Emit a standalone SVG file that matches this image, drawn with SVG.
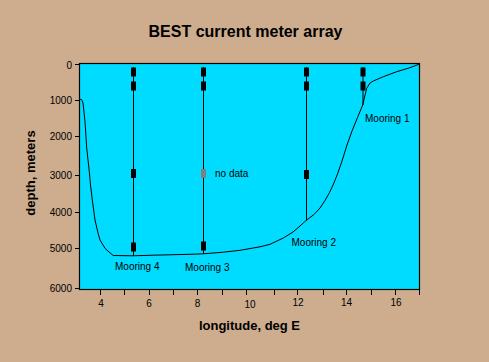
<svg xmlns="http://www.w3.org/2000/svg" width="489" height="362" viewBox="0 0 489 362">
<style>
text{font-family:"Liberation Sans",Arial,sans-serif;fill:#000}
.t{font-size:10px}
.b{font-weight:bold;font-size:13px}
.inst{fill:#000}
.nd{fill:#808080}
.line{stroke:#000;stroke-width:1;fill:none}
</style>
<rect x="0" y="0" width="489" height="362" fill="#CDAD8E"/>
<text x="245.5" y="36.5" text-anchor="middle" style="font-weight:bold;font-size:16px">BEST current meter array</text>
<g id="plot">
<rect x="79.5" y="63.5" width="340" height="226" fill="#00DCFF" stroke="#000" stroke-width="1.2"/>
</g>
<g id="yaxis">
<path class="line" d="M75 64.5H79.5M75 100.5H79.5M75 136.5H79.5M75 175.5H79.5M75 212.5H79.5M75 248.5H79.5M75 288.5H79.5"/>
<g text-anchor="end">
<text x="72" y="68.5" class="t">0</text>
<text x="72" y="104" class="t">1000</text>
<text x="72" y="140" class="t">2000</text>
<text x="72" y="179" class="t">3000</text>
<text x="72" y="216" class="t">4000</text>
<text x="72" y="252" class="t">5000</text>
<text x="72" y="292" class="t">6000</text>
</g>
<text class="b" transform="translate(35,173) rotate(-90)" text-anchor="middle">depth, meters</text>
</g>
<g id="xaxis">
<path class="line" d="M100.5 289.5V295M124.5 289.5V295M149.5 289.5V295M173.5 289.5V295M197.5 289.5V295M222.5 289.5V295M246.5 289.5V295M274.5 289.5V295M297.5 289.5V295M323.5 289.5V295M346.5 289.5V295M371.5 289.5V295M395.5 289.5V295M419.5 289.5V295"/>
<g text-anchor="middle">
<text x="101" y="307" class="t">4</text>
<text x="149" y="307" class="t">6</text>
<text x="197.5" y="307" class="t">8</text>
<text x="250" y="307.5" class="t">10</text>
<text x="298" y="306" class="t">12</text>
<text x="346.5" y="305.5" class="t">14</text>
<text x="396" y="306" class="t">16</text>
</g>
<text class="b" x="249.5" y="329.5" text-anchor="middle">longitude, deg E</text>
</g>
<g id="bathymetry">
<path class="line" d="M79.5 99 L81.7 99.7 L83 103 L85 121.7 L86.7 148 L89.3 171.7 L90.5 185 L92.3 200 L95 220 L98 233 L100 240 L105 248.3 L109 252 L113.3 255.5 L133.3 255.8 L153.3 255.2 L190 254.3 L203.3 253.8 L223.3 252.2 L240 250.3 L260 246.8 L270 244.3 L283.3 238 L293 232 L300 226 L306 220.5 L314 214.5 L320 208 L325 200.5 L329.5 192.5 L333.5 184 L337.5 174 L342 161 L347 145 L352 131 L357.5 117.5 L362.7 105 L366.7 88.3 L370 83 L373.3 81 L383.3 76.7 L396.7 71.7 L410 67.7 L419.5 64"/>
</g>
<g id="connectors">
<path class="line" d="M133.5 67V256M203.5 67V254M306.5 67V220.5M363 67V105"/>
</g>
<g id="mooring4">
<rect class="inst" x="131" y="67.5" width="5" height="9"/>
<rect class="inst" x="131" y="81.5" width="5" height="9"/>
<rect class="inst" x="131" y="169" width="5" height="9"/>
<rect class="inst" x="131" y="242.5" width="5" height="9"/>
<text class="t" x="115" y="270">Mooring 4</text>
</g>
<g id="mooring3">
<rect class="inst" x="201" y="67.5" width="5" height="9"/>
<rect class="inst" x="201" y="81.5" width="5" height="9"/>
<rect class="nd" x="201" y="169" width="5" height="9"/>
<rect class="inst" x="201" y="241.5" width="5" height="9"/>
<text class="t" x="215" y="177">no data</text>
<text class="t" x="185" y="271">Mooring 3</text>
</g>
<g id="mooring2">
<rect class="inst" x="304" y="67.5" width="5" height="9"/>
<rect class="inst" x="304" y="81.5" width="5" height="9"/>
<rect class="inst" x="304" y="170" width="5" height="9"/>
<text class="t" x="291.5" y="246">Mooring 2</text>
</g>
<g id="mooring1">
<rect class="inst" x="360.5" y="67.5" width="5" height="9"/>
<rect class="inst" x="360.5" y="81.5" width="5" height="9"/>
<text class="t" x="365" y="122">Mooring 1</text>
</g>
</svg>
